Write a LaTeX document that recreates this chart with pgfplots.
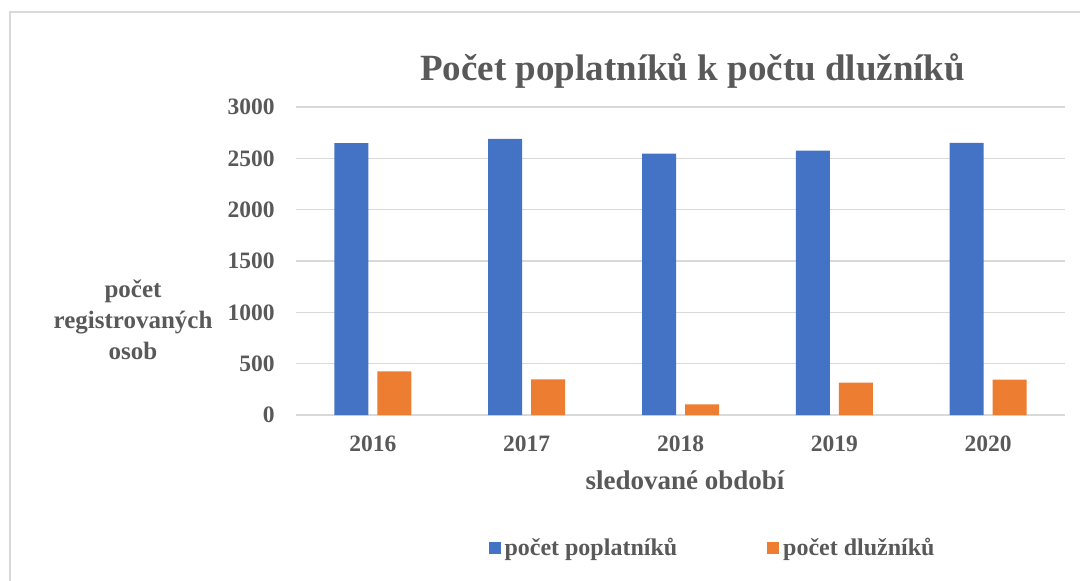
\documentclass[border=0pt]{standalone}
\usepackage{pgfplots}
\pgfplotsset{compat=1.18}
\usepackage{fontspec}
\setmainfont{Liberation Serif}
\definecolor{cblue}{HTML}{4472C4}
\definecolor{corange}{HTML}{ED7D31}
\definecolor{txt}{HTML}{595959}
\definecolor{gridc}{HTML}{D9D9D9}
\begin{document}
\begin{tikzpicture}
\useasboundingbox (0,0) rectangle (540pt,-290pt);
\draw[gridc, line width=0.8pt] (5pt,-291pt) -- (5pt,-6pt) -- (541pt,-6pt);
\begin{axis}[
  at={(148pt,-207.5pt)}, anchor=south west,
  scale only axis, width=384.5pt, height=154pt,
  ymin=0, ymax=3000, xmin=-0.5, xmax=4.5,
  ytick={0,500,...,3000},
  xtick=data, xticklabels={2016,2017,2018,2019,2020},
  major tick length=0pt,
  axis line style={draw=none},
  ymajorgrids, grid style={gridc, line width=0.8pt},
  /pgf/number format/assume math mode=true,
  /pgf/number format/1000 sep={},
  tick label style={font=\fontsize{11.75}{13}\selectfont\bfseries, text=txt},
  yticklabel style={inner sep=0pt, xshift=-10.5pt},
  xticklabel style={inner sep=0pt, yshift=-10pt},
  ybar=4.5pt, bar width=17pt,
  legend style={at={(0.543,-0.432)}, anchor=center, draw=none, fill=none,
    font=\fontsize{12}{14}\selectfont\bfseries, text=txt,
    legend columns=2, /tikz/column 2/.style={column sep=43pt}},
  legend image code/.code={\fill[#1] (0pt,-3pt) rectangle (6pt,3pt);},
]
\addplot[fill=cblue, draw=none] coordinates {(0,2648) (1,2690) (2,2546) (3,2576) (4,2650)};
\addplot[fill=corange, draw=none] coordinates {(0,425) (1,347) (2,104) (3,315) (4,344)};
\legend{počet poplatníků, počet dlužníků}
\end{axis}
\node[font=\fontsize{18.5}{22}\selectfont\bfseries, text=txt] at (346.3pt,-35.5pt) {Počet poplatníků k počtu dlužníků};
\node[font=\fontsize{12.5}{15.5}\selectfont\bfseries, text=txt, align=center] at (66.5pt,-160pt) {počet\\registrovaných\\osob};
\node[font=\fontsize{13.5}{16}\selectfont\bfseries, text=txt] at (342.5pt,-240pt) {sledované období};
\end{tikzpicture}
\end{document}
